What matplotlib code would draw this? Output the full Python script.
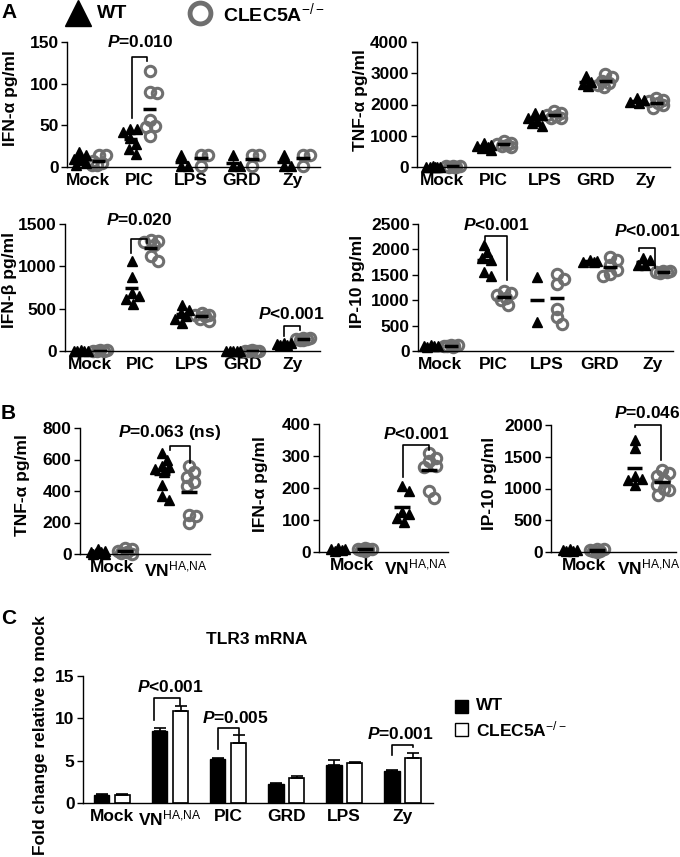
import numpy as np
import matplotlib
matplotlib.use('Agg')
import matplotlib.pyplot as plt
from matplotlib.patches import Rectangle

plt.rcParams.update({
    'font.family': ['Liberation Sans', 'DejaVu Sans'],
    'font.weight': 'bold',
    'mathtext.fontset': 'custom',
    'mathtext.rm': 'Liberation Sans:weight=normal:style=normal',
    'mathtext.it': 'Liberation Sans:italic:bold',
    'mathtext.bf': 'Liberation Sans:bold',
    'axes.linewidth': 1.0,
})

# ---------------- data ----------------
cats_A = ['Mock', 'PIC', 'LPS', 'GRD', 'Zy']
ifna_A_wt = [[18, 14, 10, 8, 5, 3], [46, 46, 42, 35, 28, 22, 16], [15, 1, 1], [14, 1, 1], [15, 1, 1]]
ifna_A_ko = [[15, 14, 7, 5, 3, 2], [115, 90, 89, 57, 49, 48, 37], [15, 15, 1], [14, 14, 1], [15, 15, 1]]
tnfa_A_wt = [[20, 10, 5, 0, 0, 0], [760, 720, 680, 640, 600, 560], [1720, 1680, 1560, 1480, 1400, 1320],
             [2900, 2720, 2650, 2580], [2200, 2150, 2080, 2050]]
tnfa_A_ko = [[40, 30, 20, 10, 0, 0], [820, 780, 740, 700, 680, 640], [1800, 1720, 1660, 1620, 1580, 1560],
             [2980, 2880, 2760, 2680, 2620, 2560], [2200, 2150, 2100, 2050, 1980, 1900]]
ifnb_A_wt = [[10, 5, 3, 2, 0], [1060, 870, 690, 650, 620, 560], [540, 480, 450, 410, 380, 330],
             [5, 3, 2, 0, 0], [100, 90, 80, 75, 70]]
ifnb_A_ko = [[10, 8, 5, 3, 0], [1310, 1300, 1290, 1250, 1120, 1060], [450, 430, 420, 410, 380, 360],
             [8, 5, 3, 2, 0], [155, 150, 145, 140, 135, 130]]
ip10_A_wt = [[110, 100, 95, 90, 85], [2080, 1940, 1830, 1800, 1560, 1480], [1450, 570],
             [1790, 1770, 1760, 1750], [1830, 1790, 1700, 1690]]
ip10_A_ko = [[120, 110, 100, 95, 90, 85], [1180, 1150, 1100, 1050, 1000, 900], [1520, 1420, 1320, 820, 660, 530],
             [1860, 1800, 1700, 1600, 1520, 1480], [1580, 1570, 1560, 1550, 1540]]

cats_B = ['Mock', r'VN$^{\mathrm{HA{,}NA}}$']
tnfa_B_wt = [[30, 20, 15, 10, 5, 0, 0], [640, 600, 560, 550, 540, 520, 440, 370, 345]]
tnfa_B_ko = [[40, 30, 20, 10, 5, 0], [560, 520, 490, 460, 430, 250, 200, 240]]
ifna_B_wt = [[12, 10, 8, 5, 3], [205, 190, 125, 120, 105, 95]]
ifna_B_ko = [[12, 10, 10, 8, 5, 3], [310, 295, 285, 270, 265, 190, 170]]
ip10_B_wt = [[40, 30, 25, 20, 15], [1760, 1630, 1190, 1140, 1150, 1050]]
ip10_B_ko = [[50, 40, 30, 20, 10, 5], [1290, 1240, 1200, 1130, 1050, 1000, 970, 900]]

cats_C = ['Mock', r'VN$^{\mathrm{HA{,}NA}}$', 'PIC', 'GRD', 'LPS', 'Zy']
tlr3_wt = [1.0, 8.5, 5.2, 2.3, 4.45, 3.75]
tlr3_wt_sem = [0.02, 0.35, 0.1, 0.05, 0.65, 0.15]
tlr3_ko = [1.0, 10.9, 7.1, 2.95, 4.75, 5.35]
tlr3_ko_sem = [0.02, 0.55, 0.9, 0.25, 0.1, 0.55]

# ---------------- layout ----------------
W, H = 680, 857
fig = plt.figure(figsize=(6.8, 8.57), dpi=100)
GRAY = '#6f6f6f'


def rect(l, t, r, b):
    return [l / W, 1 - b / H, (r - l) / W, (b - t) / H]


def swarm_offsets(vals, sx, sy, d=9.5, maxoff=7.0):
    vals = np.asarray(vals, float)
    order = np.argsort(-vals)
    placed = []
    offs = np.zeros(len(vals))
    cands = sorted(np.linspace(-maxoff, maxoff, 9), key=lambda c: (abs(c), -c))
    for i in order:
        ypx = vals[i] * sy
        best, bestd = 0.0, -1
        for c in cands:
            md = min([np.hypot(c - px, ypx - py) for px, py in placed] + [1e9])
            if md >= 0.8 * d:
                best = c
                break
            if md > bestd:
                best, bestd = c, md
        placed.append((best, ypx))
        offs[i] = best / sx
    return offs


def style_axes(ax):
    for s in ('top', 'right'):
        ax.spines[s].set_visible(False)
    ax.tick_params(axis='x', length=0, labelsize=12.5, pad=4)
    ax.tick_params(axis='y', length=4, width=1, labelsize=12.5, pad=2)


def dot_panel(px, cats, wt, ko, ylim, yticks, xlim, woff, koff, mhw, brackets, texts):
    ax = fig.add_axes(rect(*px))
    axw = px[2] - px[0]
    axh = px[3] - px[1]
    sx = axw / (xlim[1] - xlim[0])
    sy = axh / (ylim[1] - ylim[0])
    for i, (w, k) in enumerate(zip(wt, ko)):
        ox = swarm_offsets(w, sx, sy)
        ax.plot(i + woff + ox, w, ls='none', marker='^', color='k', ms=7.5, clip_on=False, zorder=3)
        ox = swarm_offsets(k, sx, sy)
        ax.plot(i + koff + ox, k, ls='none', marker='o', mfc='none', mec=GRAY, mew=2.2, ms=7.5,
                clip_on=False, zorder=2)
        ax.hlines(np.mean(w), i + woff - mhw, i + woff + mhw, color='k', lw=2.5, zorder=4)
        ax.hlines(np.mean(k), i + koff - mhw, i + koff + mhw, color='k', lw=2.5, zorder=4)
    for (c, lo, ro, yl, yt, yr) in brackets:
        ax.plot([c + lo, c + lo, c + ro, c + ro], [yl, yt, yt, yr], color='k', lw=1.2,
                clip_on=False, zorder=5)
    for (x, y, s) in texts:
        ax.text(x, y, s, ha='center', va='center', fontsize=12.5, clip_on=False)
    ax.set_xlim(xlim)
    ax.set_ylim(ylim)
    ax.set_yticks(yticks)
    ax.set_xticks(range(len(cats)))
    ax.set_xticklabels(cats)
    style_axes(ax)
    return ax


# Panel A
dot_panel((67, 42, 320, 167), cats_A, ifna_A_wt, ifna_A_ko, (0, 150), [0, 50, 100, 150],
          (-0.42, 4.53), -0.18, 0.2, 0.13,
          [(1, -0.15, 0.145, 59, 132, 127)], [(1.01, 150, r'$\mathit{P}$=0.010')])
dot_panel((417, 42, 670, 167), cats_A, tnfa_A_wt, tnfa_A_ko, (0, 4000), [0, 1000, 2000, 3000, 4000],
          (-0.5, 4.47), -0.18, 0.2, 0.13, [], [])
dot_panel((65, 224, 320, 351), cats_A, ifnb_A_wt, ifnb_A_ko, (0, 1500), [0, 500, 1000, 1500],
          (-0.49, 4.53), -0.18, 0.2, 0.13,
          [(1, -0.19, 0.12, 1157, 1323, 1276), (4, -0.18, 0.135, 173, 299, 252)],
          [(0.97, 1551, r'$\mathit{P}$=0.020'), (3.96, 441, r'$\mathit{P}$<0.001')])
dot_panel((418, 224, 673, 351), cats_A, ip10_A_wt, ip10_A_ko, (0, 2500), [0, 500, 1000, 1500, 2000, 2500],
          (-0.42, 4.38), -0.18, 0.2, 0.13,
          [(1, -0.16, 0.256, 2192, 2257, 1391), (4, -0.26, 0.04, 1962, 2028, 1634)],
          [(1.05, 2487, r'$\mathit{P}$<0.001'), (3.89, 2356, r'$\mathit{P}$<0.001')])

# Panel B
dot_panel((80, 428, 210, 554), cats_B, tnfa_B_wt, tnfa_B_ko, (0, 800), [0, 200, 400, 600, 800],
          (-0.5, 1.53), -0.22, 0.2, 0.12,
          [(1, -0.094, 0.22, 662, 688, 578)], [(0.906, 772, r'$\mathit{P}$=0.063 (ns)')])
dot_panel((319, 424, 448, 552), cats_B, ifna_B_wt, ifna_B_ko, (0, 400), [0, 100, 200, 300, 400],
          (-0.52, 1.5), -0.22, 0.2, 0.12,
          [(1, -0.2, 0.2, 233, 334, 319)], [(1.01, 369, r'$\mathit{P}$<0.001')])
dot_panel((551, 425, 676, 552), cats_B, ip10_B_wt, ip10_B_ko, (0, 2000), [0, 500, 1000, 1500, 2000],
          (-0.51, 1.42), -0.22, 0.2, 0.12,
          [(1, -0.21, 0.19, 1974, 2000, 1449)], [(0.97, 2184, r'$\mathit{P}$=0.046')])

# Panel C
axc = fig.add_axes(rect(83, 676, 433, 803))
xc = np.arange(len(cats_C))
bw = 0.27
axc.bar(xc - 0.18, tlr3_wt, bw, color='k', edgecolor='k', lw=1, zorder=2)
axc.bar(xc + 0.18, tlr3_ko, bw, color='white', edgecolor='k', lw=1.2, zorder=2)
axc.errorbar(xc - 0.18, tlr3_wt, yerr=[np.zeros(len(xc)), tlr3_wt_sem], fmt='none', ecolor='k',
             elinewidth=1.2, capsize=4, capthick=1.2, zorder=3)
axc.errorbar(xc + 0.18, tlr3_ko, yerr=[np.zeros(len(xc)), tlr3_ko_sem], fmt='none', ecolor='k',
             elinewidth=1.2, capsize=4, capthick=1.2, zorder=3)
for (c, lo, ro, yl, yt, yr) in [(1, -0.28, 0.17, 9.8, 12.36, 11.57), (2, -0.17, 0.19, 6.4, 8.8, 8.2),
                                (5, -0.18, 0.19, 5.65, 6.83, 6.6)]:
    axc.plot([c + lo, c + lo, c + ro, c + ro], [yl, yt, yt, yr], color='k', lw=1.2, clip_on=False)
for (x, y, s) in [(1.0, 13.7, r'$\mathit{P}$<0.001'), (2.12, 10.0, r'$\mathit{P}$=0.005'),
                  (4.96, 8.1, r'$\mathit{P}$=0.001')]:
    axc.text(x, y, s, ha='center', va='center', fontsize=12.5, clip_on=False)
axc.set_xlim(-0.5, 5.53)
axc.set_ylim(0, 15)
axc.set_yticks([0, 5, 10, 15])
axc.set_xticks(xc)
axc.set_xticklabels(cats_C)
style_axes(axc)

# ---------------- overlay (figure-level text) ----------------
ov = fig.add_axes([0, 0, 1, 1])
ov.set_xlim(0, W)
ov.set_ylim(H, 0)
ov.axis('off')
ov.patch.set_visible(False)

ov.text(1, 12, 'A', fontsize=15, ha='left', va='center')
ov.text(1, 413, 'B', fontsize=15, ha='left', va='center')
ov.text(1, 619, 'C', fontsize=15, ha='left', va='center')

ov.plot([78], [13], marker='^', color='k', ms=19, ls='none')
ov.text(97, 13, 'WT', fontsize=14, ha='left', va='center')
ov.plot([200], [13], marker='o', mfc='none', mec=GRAY, mew=3.5, ms=15, ls='none')
ov.text(223, 13, r'CLEC5A$^{\mathrm{-/-}}$', fontsize=14, ha='left', va='center')

ylabels = [(18, 98, 'IFN-α pg/ml'), (368, 100, 'TNF-α pg/ml'), (17, 280, 'IFN-β pg/ml'),
           (365, 281, 'IP-10 pg/ml'), (30, 485, 'TNF-α pg/ml'), (268, 484, 'IFN-α pg/ml'),
           (497, 483, 'IP-10 pg/ml'), (48, 735, 'Fold change relative to mock')]
for x, y, s in ylabels:
    ov.text(x, y, s, rotation=90, ha='right', va='center', fontsize=12.5)

ov.text(257, 640, 'TLR3 mRNA', fontsize=12.5, ha='center', va='center')
ov.add_patch(Rectangle((455, 700), 13, 13, facecolor='k', edgecolor='k', lw=1))
ov.add_patch(Rectangle((455, 723), 13, 13, facecolor='white', edgecolor='k', lw=1))
ov.text(476, 706, 'WT', fontsize=12.5, ha='left', va='center')
ov.text(476, 729, r'CLEC5A$^{\mathrm{-/-}}$', fontsize=12.5, ha='left', va='center')

fig.savefig('out.png', dpi=100)
